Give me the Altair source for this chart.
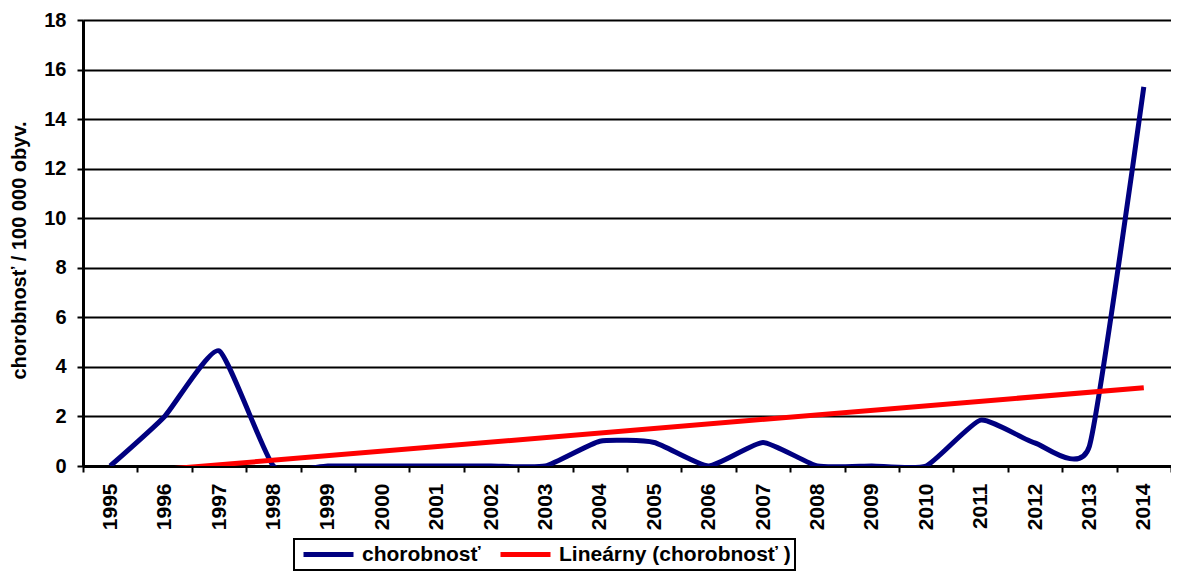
import altair as alt
import pandas as pd

years = [str(y) for y in range(1995, 2015)]
values = [0, 2.0, 4.65, 0, 0, 0, 0, 0, 0, 1.0, 0.95, 0, 0.95, 0, 0, 0, 1.85, 0.93, 0.8, 15.3]
series_names = ["chorobnosť", "Lineárny (chorobnosť )"]
series_colors = ["#000080", "#ff0000"]
y_ticks = list(range(0, 19, 2))

df = pd.DataFrame({"year": years, "value": values, "idx": list(range(1, len(years) + 1))})

FONT = "Liberation Sans"

color_scale = alt.Scale(domain=series_names, range=series_colors)

x_enc = alt.X(
    "year:O",
    sort=years,
    scale=alt.Scale(domain=years, paddingInner=0, paddingOuter=0),
    axis=alt.Axis(
        title=None,
        labelAngle=270,
        labelFont=FONT,
        labelFontSize=21,
        labelFontWeight="bold",
        labelColor="black",
        labelPadding=11,
        tickBand="extent",
        tickColor="black",
        tickWidth=2,
        tickSize=6,
        domainColor="black",
        domainWidth=3,
        grid=False,
    ),
)

y_enc = alt.Y(
    "value:Q",
    scale=alt.Scale(domain=[0, 18], nice=False),
    axis=alt.Axis(
        title="chorobnosť / 100 000 obyv.",
        titleFont=FONT,
        titleFontSize=20,
        titleFontWeight="bold",
        titleColor="black",
        titleAngle=270,
        titleAlign="center",
        titleBaseline="middle",
        titleX=-64,
        titleY=230,
        values=y_ticks,
        labelFont=FONT,
        labelFontSize=20,
        labelFontWeight="bold",
        labelColor="black",
        labelPadding=11,
        tickColor="black",
        tickWidth=2,
        tickSize=6,
        domainColor="black",
        domainWidth=3,
        grid=True,
        gridColor="black",
        gridWidth=2,
    ),
)

legend = alt.Legend(
    title=None,
    orient="none",
    direction="horizontal",
    legendX=211,
    legendY=519,
    symbolType="M-1,0L1,0",
    symbolSize=2500,
    symbolStrokeWidth=5,
    clipHeight=23,
    symbolOffset=3,
    labelFont=FONT,
    labelFontSize=21,
    labelFontWeight="bold",
    labelColor="black",
    labelOffset=6,
    columnPadding=14,
    strokeColor="black",
    padding=4,
    labelLimit=400,
)

base = alt.Chart(df)

line = base.transform_calculate(series="'chorobnosť'").mark_line(
    interpolate="cardinal", tension=0.5, strokeWidth=5, clip=True
).encode(
    x=x_enc,
    y=y_enc,
    color=alt.Color("series:N", scale=color_scale, legend=legend),
)

trend = (
    base.transform_regression("idx", "value", method="linear")
    .transform_calculate(year="toString(datum.idx + 1994)", series="'Lineárny (chorobnosť )'")
    .mark_line(strokeWidth=5, clip=True)
    .encode(
        x=alt.X("year:O", sort=years),
        y=alt.Y("value:Q"),
        color=alt.Color("series:N", scale=color_scale, legend=legend),
    )
)

chart = (
    alt.layer(line, trend)
    .properties(
        width=1088,
        height=446,
        autosize=alt.AutoSizeParams(type="none"),
        padding={"left": 75, "top": 12, "right": 0, "bottom": 110},
        background="white",
    )
    .configure_view(stroke="#808080", strokeWidth=1)
    .configure_legend(strokeWidth=2)
)

chart.save("out.html", embed_options={"renderer": "svg", "actions": False})
